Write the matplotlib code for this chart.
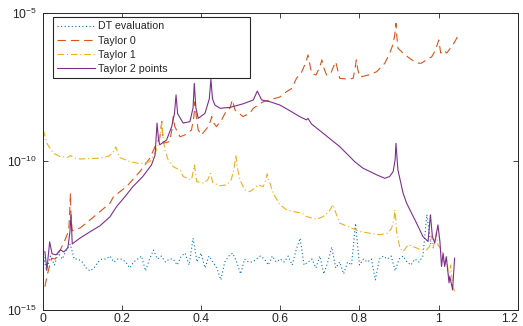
"""Fehlerverlauf DT-Auswertung vs. Taylor-Näherungen (log-Skala)."""

import matplotlib

matplotlib.use("Agg")
import matplotlib.pyplot as plt
import numpy as np

# --- Daten (Exponenten log10 der Werte) -------------------------------------

DT_X = np.round(np.arange(0.0, 0.985, 0.01), 3)
DT_LOG = [
    -13.0, -13.7, -13.2, -13.5, -13.1, -13.3, -13.0, -12.8, -13.3, -13.3,
    -13.4, -13.6, -13.7, -13.6, -13.4, -13.3, -13.3, -13.2, -13.4, -13.3,
    -13.3, -13.4, -13.6, -13.4, -13.3, -13.2, -13.7, -13.3, -13.0, -13.3,
    -13.2, -13.4, -13.3, -13.3, -13.5, -13.2, -13.1, -13.5, -12.6, -13.4,
    -13.1, -13.6, -13.2, -13.4, -13.6, -14.0, -13.4, -13.2, -13.1, -13.4,
    -13.8, -13.3, -13.4, -13.4, -13.3, -13.2, -13.3, -13.5, -13.2, -13.4,
    -13.3, -13.4, -13.2, -13.5, -13.0, -12.6, -13.5, -13.4, -13.3, -13.6,
    -13.2, -13.8, -13.4, -12.9, -13.6, -13.4, -13.8, -13.4, -13.5, -12.1,
    -13.5, -13.3, -13.4, -13.3, -14.0, -13.3, -13.2, -13.3, -13.2, -13.7,
    -13.3, -13.2, -13.4, -13.5, -13.3, -13.4, -13.2, -11.8, -12.8,
]

T0_X = [
    0.006, 0.012, 0.023, 0.032, 0.045, 0.057, 0.066, 0.068, 0.0705, 0.072,
    0.075, 0.095, 0.120, 0.145, 0.170, 0.179, 0.212, 0.246, 0.271, 0.284,
    0.296, 0.301, 0.305, 0.321, 0.327, 0.330, 0.334, 0.347, 0.359, 0.376,
    0.382, 0.385, 0.388, 0.393, 0.401, 0.418, 0.424, 0.427, 0.431, 0.439,
    0.452, 0.465, 0.473, 0.479, 0.486, 0.506, 0.523, 0.532, 0.557, 0.599,
    0.616, 0.629, 0.641, 0.654, 0.665, 0.670, 0.675, 0.679, 0.690, 0.700,
    0.705, 0.710, 0.717, 0.728, 0.735, 0.740, 0.745, 0.750, 0.771, 0.784,
    0.789, 0.792, 0.796, 0.801, 0.822, 0.843, 0.864, 0.876, 0.884, 0.889,
    0.892, 0.894, 0.897, 0.910, 0.927, 0.944, 0.956, 0.969, 0.982, 0.992,
    1.000, 1.005, 1.013, 1.020, 1.030, 1.040, 1.047,
]
T0_LOG = [
    -14.23, -13.83, -13.27, -13.30, -12.99, -12.65, -12.35, -11.90, -11.07, -11.90,
    -12.35, -12.25, -11.98, -11.70, -11.42, -11.20, -10.86, -10.35, -9.90, -9.51,
    -9.20, -8.67, -9.40, -9.34, -8.90, -8.50, -8.84, -9.18, -9.12, -8.95,
    -8.50, -8.00, -8.50, -8.95, -9.12, -8.84, -8.65, -8.50, -8.70, -8.84,
    -8.61, -8.28, -8.22, -7.94, -8.28, -8.50, -8.39, -8.22, -8.00, -7.84,
    -7.66, -7.55, -7.21, -7.00, -6.66, -6.42, -6.76, -7.04, -7.10, -6.83,
    -6.59, -6.86, -7.10, -7.03, -6.80, -6.65, -6.93, -7.21, -7.24, -7.21,
    -6.86, -6.59, -6.93, -7.17, -7.10, -6.99, -6.70, -6.37, -6.09, -5.75,
    -5.36, -5.75, -6.19, -6.37, -6.54, -6.70, -6.70, -6.59, -6.49, -6.26,
    -5.92, -6.36, -6.26, -6.36, -6.19, -5.99, -5.82,
]

T1_X = [
    0.002, 0.011, 0.027, 0.044, 0.064, 0.071, 0.077, 0.095, 0.145, 0.168,
    0.178, 0.185, 0.190, 0.195, 0.221, 0.246, 0.271, 0.284, 0.294, 0.299,
    0.301, 0.303, 0.309, 0.317, 0.330, 0.347, 0.355, 0.376, 0.381, 0.383,
    0.386, 0.389, 0.406, 0.417, 0.424, 0.430, 0.448, 0.465, 0.476, 0.483,
    0.488, 0.492, 0.498, 0.511, 0.523, 0.536, 0.544, 0.557, 0.564, 0.567,
    0.570, 0.574, 0.582, 0.599, 0.616, 0.633, 0.654, 0.666, 0.692, 0.708,
    0.723, 0.733, 0.742, 0.750, 0.776, 0.801, 0.826, 0.851, 0.872, 0.881,
    0.887, 0.889, 0.892, 0.893, 0.902, 0.910, 0.923, 0.935, 0.952, 0.969,
    0.977, 0.982, 0.986, 0.994, 0.998, 1.007, 1.015, 1.020, 1.026, 1.030,
    1.035, 1.040,
]
T1_LOG = [
    -8.95, -9.40, -9.73, -9.85, -9.87, -9.81, -9.88, -9.93, -9.90, -9.83,
    -9.69, -9.52, -9.72, -9.88, -10.02, -10.09, -10.02, -9.73, -9.39, -8.95,
    -8.67, -9.12, -9.62, -9.96, -10.19, -10.30, -10.52, -10.63, -10.30, -10.13,
    -10.36, -10.69, -10.74, -10.63, -10.41, -10.73, -10.83, -10.80, -10.63, -10.30,
    -9.79, -10.23, -10.63, -10.97, -11.03, -10.91, -10.80, -10.86, -10.63, -10.43,
    -10.63, -10.74, -11.08, -11.47, -11.64, -11.70, -11.75, -11.87, -11.96, -11.87,
    -11.70, -11.47, -11.81, -12.09, -12.23, -12.37, -12.43, -12.48, -12.43, -12.26,
    -11.98, -11.64, -11.98, -12.32, -12.93, -13.05, -12.82, -12.88, -12.97, -12.99,
    -12.88, -12.52, -12.93, -12.43, -12.82, -12.99, -13.55, -13.26, -14.00, -13.50,
    -14.17, -14.39,
]

T2_X = [
    0.006, 0.011, 0.018, 0.024, 0.034, 0.045, 0.054, 0.064, 0.069, 0.072,
    0.075, 0.095, 0.120, 0.145, 0.170, 0.187, 0.208, 0.228, 0.253, 0.275,
    0.284, 0.289, 0.293, 0.296, 0.313, 0.326, 0.333, 0.337, 0.341, 0.355,
    0.372, 0.380, 0.383, 0.387, 0.393, 0.410, 0.421, 0.425, 0.429, 0.435,
    0.448, 0.473, 0.506, 0.532, 0.542, 0.553, 0.574, 0.599, 0.624, 0.649,
    0.666, 0.670, 0.679, 0.708, 0.750, 0.788, 0.809, 0.843, 0.864, 0.876,
    0.885, 0.890, 0.892, 0.895, 0.897, 0.910, 0.919, 0.944, 0.960, 0.973,
    0.979, 0.984, 0.990, 0.998, 1.003, 1.007, 1.011, 1.015, 1.019, 1.026,
    1.028, 1.035, 1.040,
]
T2_LOG = [
    -13.05, -13.66, -12.72, -13.12, -13.16, -12.99, -13.06, -12.92, -12.40, -11.81,
    -12.79, -12.59, -12.38, -12.18, -11.88, -11.53, -11.20, -10.86, -10.52, -10.13,
    -9.80, -8.72, -9.30, -9.45, -9.29, -8.84, -8.40, -7.77, -8.40, -8.72,
    -8.67, -8.20, -7.38, -8.20, -8.56, -8.39, -7.90, -7.24, -7.90, -8.11,
    -8.22, -8.19, -8.07, -7.94, -7.64, -7.94, -8.00, -8.11, -8.30, -8.50,
    -8.61, -8.56, -8.75, -9.06, -9.51, -10.02, -10.24, -10.46, -10.58, -10.52,
    -10.35, -9.95, -9.40, -9.95, -10.30, -11.08, -11.42, -12.09, -12.54, -12.71,
    -11.81, -12.54, -12.76, -12.15, -12.71, -13.55, -13.10, -13.55, -13.22, -14.10,
    -13.89, -14.34, -13.27,
]

LABELS = ["DT evaluation", "Taylor 0", "Taylor 1", "Taylor 2 points"]
X_TICKS = [0, 0.2, 0.4, 0.6, 0.8, 1.0, 1.2]
X_TICK_LABELS = ["0", "0.2", "0.4", "0.6", "0.8", "1", "1.2"]
Y_TICKS = [1e-15, 1e-10, 1e-5]
Y_TICK_LABELS = [r"$10^{-15}$", r"$10^{-10}$", r"$10^{-5}$"]

# MATLAB-Standardfarben
COLORS = ["#0072BD", "#D95319", "#EDB120", "#7E2F8E"]
AXIS_COLOR = "#262626"


def main() -> None:
    plt.rcParams["font.family"] = ["Liberation Sans", "DejaVu Sans"]
    plt.rcParams["mathtext.default"] = "regular"

    fig = plt.figure(figsize=(5.23, 3.26), dpi=100)
    ax = fig.add_axes([0.0813, 0.0506, 0.9091, 0.9104])

    lw = 0.8
    ax.plot(DT_X, 10.0 ** np.array(DT_LOG), color=COLORS[0], lw=lw,
            dashes=(1, 2.2), label=LABELS[0])
    ax.plot(T0_X, 10.0 ** np.array(T0_LOG), color=COLORS[1], lw=lw,
            dashes=(7.5, 4.5), label=LABELS[1])
    ax.plot(T1_X, 10.0 ** np.array(T1_LOG), color=COLORS[2], lw=lw,
            dashes=(6, 2.5, 1, 2.5), label=LABELS[2])
    ax.plot(T2_X, 10.0 ** np.array(T2_LOG), color=COLORS[3], lw=lw,
            label=LABELS[3])

    ax.set_yscale("log")
    ax.set_xlim(0, 1.2)
    ax.set_ylim(1e-15, 1e-5)
    ax.set_xticks(X_TICKS)
    ax.set_xticklabels(X_TICK_LABELS)
    ax.set_yticks(Y_TICKS)
    ax.set_yticklabels(Y_TICK_LABELS)
    ax.minorticks_off()

    ax.tick_params(direction="in", top=True, right=True, length=3.4,
                   width=0.6, color=AXIS_COLOR, labelcolor=AXIS_COLOR,
                   labelsize=8.7)
    # Beschriftung knapp unter der Achse, damit sie nicht am Bildrand abreißt
    ax.tick_params(axis="x", pad=2.5)
    ax.tick_params(axis="y", pad=4)
    # letzte x-Beschriftung rechtsbündig, sonst ragt sie über den Bildrand
    ax.get_xticklabels()[-1].set_horizontalalignment("right")
    for spine in ax.spines.values():
        spine.set_color(AXIS_COLOR)
        spine.set_linewidth(0.7)

    leg = ax.legend(
        loc="upper left",
        bbox_to_anchor=(0.022, 0.5, 0.414, 0.4855),
        mode="expand",
        borderaxespad=0,
        fontsize=7.7,
        handlelength=3.5,
        handletextpad=0.3,
        labelspacing=0.4,
        borderpad=0.4,
        fancybox=False,
        framealpha=1,
        edgecolor=AXIS_COLOR,
    )
    leg.get_frame().set_linewidth(0.8)
    for text in leg.get_texts():
        text.set_color(AXIS_COLOR)

    fig.savefig("out.png", dpi=100)
    plt.close(fig)


if __name__ == "__main__":
    main()
